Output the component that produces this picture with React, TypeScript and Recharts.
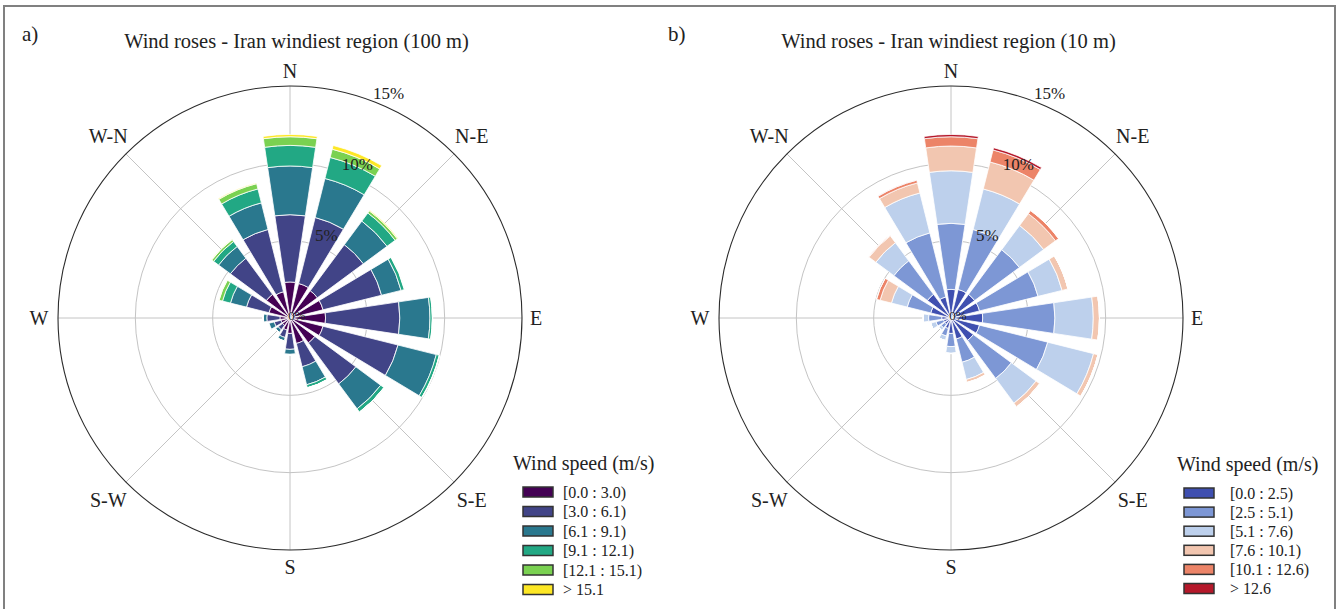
import React from 'react';
import { RadialBarChart, RadialBar, PolarAngleAxis, PolarRadiusAxis, PolarGrid } from 'recharts';

const FONT = '"Liberation Serif", "Times New Roman", serif';
const CX = 290;
const CY = 318;
const R = 232;

const directions = ['N', 'NNE', 'NE', 'ENE', 'E', 'ESE', 'SE', 'SSE', 'S', 'SSW', 'SW', 'WSW', 'W', 'WNW', 'NW', 'NNW'];
const dirTickLabels: Record<string, string> = { N: 'N', NE: 'N-E', E: 'E', SE: 'S-E', S: 'S', SW: 'S-W', W: 'W', NW: 'W-N' };
const pctTicks = [0, 5, 10, 15];

// a) 100 m, viridis
const binsA = ['[0.0 : 3.0)', '[3.0 : 6.1)', '[6.1 : 9.1)', '[9.1 : 12.1)', '[12.1 : 15.1)', '> 15.1'];
const a0 = [2.33, 2.3, 2.2, 2.2, 2.3, 2.2, 2.0, 1.7, 1.0, 0.8, 0.6, 0.6, 0.65, 1.4, 1.9, 1.75];
const a1 = [4.35, 4.4, 3.7, 3.9, 4.8, 5.0, 3.3, 1.55, 1.03, 0.5, 0.35, 0.45, 0.85, 1.5, 2.9, 4.15];
const a2 = [3.15, 2.6, 1.9, 1.3, 1.95, 2.55, 2.0, 1.2, 0.32, 0.22, 0.2, 0.35, 0.22, 1.07, 0.95, 1.77];
const a3 = [1.33, 1.4, 0.65, 0.22, 0.15, 0.2, 0.26, 0.2, 0.05, 0.02, 0.02, 0.05, 0.03, 0.53, 0.4, 0.93];
const a4 = [0.56, 0.55, 0.17, 0.03, 0.02, 0.02, 0.01, 0, 0, 0, 0, 0, 0, 0.23, 0.15, 0.35];
const a5 = [0.15, 0.25, 0.05, 0, 0, 0, 0, 0, 0, 0, 0, 0, 0, 0.02, 0.02, 0.05];
const colorsA = ['#440154', '#414487', '#2a788e', '#22a884', '#7ad151', '#fde725'];

// b) 10 m, coolwarm
const binsB = ['[0.0 : 2.5)', '[2.5 : 5.1)', '[5.1 : 7.6)', '[7.6 : 10.1)', '[10.1 : 12.6)', '> 12.6'];
const b0 = [1.85, 1.9, 1.9, 1.9, 2.05, 1.9, 1.8, 1.4, 1.0, 0.7, 0.5, 0.5, 0.6, 1.35, 1.9, 1.4];
const b1 = [4.27, 4.0, 3.6, 3.9, 4.67, 4.55, 3.06, 1.55, 0.85, 0.5, 0.3, 0.5, 0.85, 1.57, 2.7, 4.27];
const b2 = [3.4, 2.7, 1.95, 1.6, 2.48, 3.05, 1.99, 1.15, 0.43, 0.3, 0.2, 0.35, 0.34, 1.05, 1.45, 2.66];
const b3 = [1.6, 1.8, 0.95, 0.4, 0.4, 0.3, 0.29, 0.2, 0.02, 0, 0, 0, 0.01, 0.76, 0.55, 0.67];
const b4 = [0.6, 0.8, 0.25, 0, 0, 0, 0.01, 0, 0, 0, 0, 0, 0, 0.24, 0.05, 0.18];
const b5 = [0.15, 0.15, 0, 0, 0, 0, 0, 0, 0, 0, 0, 0, 0, 0, 0, 0.02];
const colorsB = ['#3f4fb0', '#7d97d5', '#bdd0ec', '#f2c6b0', '#ec8468', '#b5182a'];

const gridAngles = [90, 45, 0, -45, -90, -135, -180, -225];
const labelR: Record<string, number> = { N: 247, NE: 257, E: 246, SE: 257, S: 249, SW: 257, W: 251, NW: 257 };

function buildRows(series: number[][]) {
  return directions.map((dir, i) => {
    const row: any = { dir };
    series.forEach((s, k) => {
      row['s' + k] = s[i];
    });
    return row;
  });
}

const rowsA = buildRows([a0, a1, a2, a3, a4, a5]);
const rowsB = buildRows([b0, b1, b2, b3, b4, b5]);

const renderDirTick = (props: any) => {
  const { index, payload } = props;
  const key = payload?.value;
  const label = dirTickLabels[key];
  if (!label) return <g />;
  const ang = ((90 - index * 22.5) * Math.PI) / 180;
  const r = labelR[key];
  return (
    <text
      x={CX + r * Math.cos(ang)}
      y={CY - r * Math.sin(ang)}
      textAnchor="middle"
      dominantBaseline="central"
      fontSize={20}
      fontFamily={FONT}
      fill="#222"
    >
      {label}
    </text>
  );
};

const renderPctTick = (props: any) => {
  const { payload } = props;
  const v = payload?.value;
  let x = CX + 7;
  let y = CY - 3;
  if (v > 0) {
    const r = (v / 15) * R + 13;
    const a = (23.7 * Math.PI) / 180;
    x = CX + r * Math.sin(a);
    y = CY - r * Math.cos(a);
  }
  return (
    <text x={x} y={y} textAnchor="middle" dominantBaseline="central" fontSize={v > 0 ? 17 : 13} fontFamily={FONT} fill="#222">
      {v + '%'}
    </text>
  );
};

function WindRose({ rows, colors }: { rows: any[]; colors: string[] }) {
  return (
    <RadialBarChart
      width={680}
      height={609}
      cx={CX}
      cy={CY}
      innerRadius={0}
      outerRadius={R}
      startAngle={78.75}
      endAngle={-281.25}
      data={rows}
      layout="centric"
      barCategoryGap="12%"
      margin={{ top: 0, right: 0, bottom: 0, left: 0 }}
    >
      <PolarAngleAxis type="category" dataKey="dir" axisLine={false} tickLine={false} tick={renderDirTick} />
      {colors.map((c, k) => (
        <RadialBar key={k} dataKey={'s' + k} stackId="w" fill={c} stroke="#fff" strokeWidth={0.8} isAnimationActive={false} />
      ))}
      <PolarGrid gridType="circle" polarAngles={gridAngles} polarRadius={[R / 3, (2 * R) / 3]} stroke="#c4c4c4" strokeWidth={1} />
      <PolarGrid gridType="circle" radialLines={false} polarRadius={[R]} stroke="#2b2b2b" strokeWidth={1.1} />
      <PolarRadiusAxis type="number" domain={[0, 15]} ticks={pctTicks} angle={66.3} axisLine={false} tickLine={false} tick={renderPctTick} />
    </RadialBarChart>
  );
}

function LegendBlock({ x, y, px, tx, step, labels, colors }: any) {
  return (
    <g fontFamily={FONT} fill="#222">
      <text x={x} y={y} fontSize={20}>Wind speed (m/s)</text>
      {labels.map((l: string, i: number) => {
        const cy = y + 22 + i * step;
        return (
          <g key={l}>
            <rect x={px} y={cy - 5} width={30} height={10} fill={colors[i]} stroke="#333" strokeWidth={1.5} />
            <text x={tx} y={cy} dominantBaseline="central" fontSize={16}>{l}</text>
          </g>
        );
      })}
    </g>
  );
}

export default function App() {
  return (
    <div style={{ position: 'absolute', left: 0, top: 0, width: 1341, height: 609, overflow: 'hidden', background: '#fff' }}>
      <div style={{ position: 'absolute', left: 3, top: 5, width: 1329, height: 620, border: '2px solid #808080' }} />
      <div style={{ position: 'absolute', left: 0, top: 0 }}>
        <WindRose rows={rowsA} colors={colorsA} />
      </div>
      <div style={{ position: 'absolute', left: 661, top: 0 }}>
        <WindRose rows={rowsB} colors={colorsB} />
      </div>
      <svg width={1341} height={609} style={{ position: 'absolute', left: 0, top: 0, pointerEvents: 'none' }}>
        <g fontFamily={FONT} fill="#222">
          <text x={22} y={41} fontSize={21}>a)</text>
          <text x={668} y={41} fontSize={21}>b)</text>
          <text x={296.5} y={48} fontSize={20.5} textAnchor="middle">Wind roses - Iran windiest region (100 m)</text>
          <text x={948.5} y={48} fontSize={20.5} textAnchor="middle">Wind roses - Iran windiest region (10 m)</text>
        </g>
        <LegendBlock x={513} y={470} px={523} tx={563} step={19.5} labels={binsA} colors={colorsA} />
        <LegendBlock x={1177} y={471} px={1184} tx={1230} step={19.1} labels={binsB} colors={colorsB} />
      </svg>
    </div>
  );
}
